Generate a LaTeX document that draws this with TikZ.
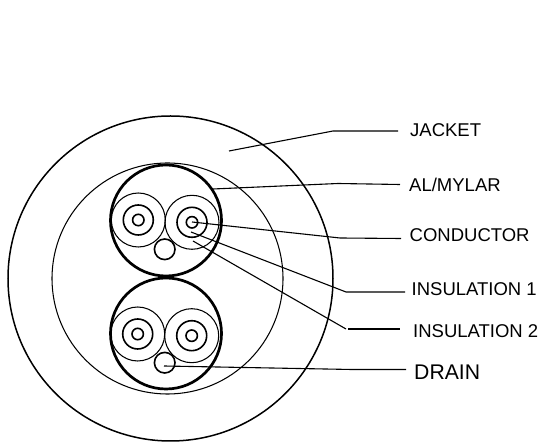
\documentclass[tikz,border=0pt]{standalone}
\usepackage{fontspec}
\setmainfont{Liberation Sans}
\tikzset{
  thinring/.style={draw,line width=1.05pt},
  midring/.style={draw,line width=1.6pt},
  shieldring/.style={draw,line width=2.7pt},
  leader/.style={draw,line width=1.1pt},
  callout/.style={anchor=west,inner sep=0pt,font=\fontsize{18.5}{20}\selectfont},
}
\begin{document}
\begin{tikzpicture}[x=1pt,y=-1pt]
   \useasboundingbox (0,0) rectangle (539,443);

   % cable body
   \draw [thinring,line width=1.5pt] (170.5,278.5) circle (162.5);
   \draw [thinring] (167.5,278.5) circle (115.5);

   % upper pair
   \draw [shieldring] (166,220.5) circle (55.5);
   \draw [thinring] (138.3,220) circle (27);
   \draw [midring] (138.3,220) circle (15);
   \draw [midring] (138.3,220) circle (5.7);
   \draw [thinring] (192,222.3) circle (27);
   \draw [midring] (192,222.3) circle (15);
   \draw [midring] (192,222.3) circle (5.7);
   \draw [midring] (164.7,249.3) circle (10.3);

   % lower pair
   \draw [shieldring] (166,333.5) circle (55.5);
   \draw [thinring] (137.7,334) circle (27);
   \draw [midring] (137.7,334) circle (15);
   \draw [midring] (137.7,334) circle (5.7);
   \draw [thinring] (191.7,335.7) circle (27);
   \draw [midring] (191.7,335.7) circle (15);
   \draw [midring] (191.7,335.7) circle (5.7);
   \draw [midring] (164.7,362.7) circle (10.3);

   \node (JACKET) at (410,130) [callout] {JACKET};
   \node (AL-MYLAR) at (409,185) [callout] {AL/MYLAR};
   \node (CONDUCTOR) at (409.5,235) [callout] {CONDUCTOR};
   \node (INSULATION-1) at (411.5,289.5) [callout] {INSULATION 1};
   \node (INSULATION-2) at (413,331) [callout] {INSULATION 2};
   \node (DRAIN) at (414,372) [callout,font=\fontsize{21.2}{23}\selectfont] {DRAIN};

   \coordinate (jacket-start) at (229,151);
   \coordinate (jacket-bend) at (333,131);
   \coordinate (jacket-end) at (398,131);
   \coordinate (mylar-start) at (213,189);
   \coordinate (mylar-bend) at (338,183.5);
   \coordinate (mylar-end) at (400,184.5);
   \coordinate (conductor-start) at (192,222);
   \coordinate (conductor-bend) at (340,238);
   \coordinate (conductor-end) at (401,238.5);
   \coordinate (ins1-start) at (191,232);
   \coordinate (ins1-bend) at (346,292);
   \coordinate (ins1-end) at (405,292);
   \coordinate (ins2-start) at (193,241);
   \coordinate (ins2-bend) at (346,329);
   \coordinate (ins2-mid) at (348,329);
   \coordinate (ins2-end) at (400,329);
   \coordinate (drain-start) at (164,366);
   \coordinate (drain-bend) at (352,369.5);
   \coordinate (drain-end) at (406,369.5);

   \draw [leader] (jacket-start) -- (jacket-bend) -- (jacket-end);
   \draw [leader] (mylar-start) -- (mylar-bend) -- (mylar-end);
   \draw [leader] (conductor-start) -- (conductor-bend) -- (conductor-end);
   \draw [leader] (ins1-start) -- (ins1-bend) -- (ins1-end);
   \draw [leader] (ins2-start) -- (ins2-bend);
   \draw [leader] (ins2-mid) -- (ins2-end);
   \draw [leader] (drain-start) -- (drain-bend) -- (drain-end);

\end{tikzpicture}
\end{document}
